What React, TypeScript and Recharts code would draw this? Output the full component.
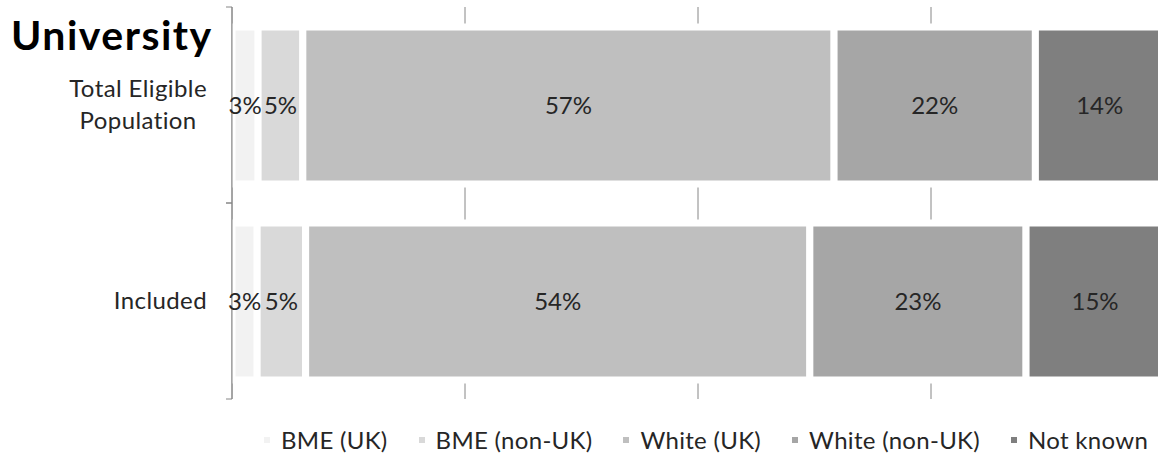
// University ethnicity breakdown: stacked 100% bars
import React from "react";
import {
  BarChart,
  Bar,
  XAxis,
  YAxis,
  CartesianGrid,
  Legend,
  LabelList,
} from "recharts";

const categories = ["Total Eligible Population", "Included"];
const bmeUk = [2.8, 2.7];
const bmeNonUk = [4.8, 5.2];
const whiteUk = [57.0, 54.1];
const whiteNonUk = [21.6, 23.2];
const notKnown = [13.8, 14.8];

const seriesNames = ["BME (UK)", "BME (non-UK)", "White (UK)", "White (non-UK)", "Not known"];
const seriesKeys = ["bmeUk", "bmeNonUk", "whiteUk", "whiteNonUk", "notKnown"];
const seriesColors = ["#f2f2f2", "#d9d9d9", "#bfbfbf", "#a6a6a6", "#7f7f7f"];
const xTicks = [0, 25, 50, 75, 100];

const data = categories.map((name, i) => ({
  name,
  bmeUk: bmeUk[i],
  bmeNonUk: bmeNonUk[i],
  whiteUk: whiteUk[i],
  whiteNonUk: whiteNonUk[i],
  notKnown: notKnown[i],
}));

const FONT = "Lato, 'Open Sans', sans-serif";
const TEXT = "#262626";
const AXIS = "#868686";
const TICK_MARGIN = 25;

let ctx: CanvasRenderingContext2D | null = null;
function measure(s: string) {
  if (!ctx) ctx = document.createElement("canvas").getContext("2d");
  if (!ctx) return s.length * 10;
  ctx.font = "24px Lato";
  return ctx.measureText(s).width + s.length * 0.4;
}

function splitLabel(s: string) {
  if (s.length <= 12) return [s];
  const i = s.lastIndexOf(" ");
  return [s.slice(0, i), s.slice(i + 1)];
}

const CategoryTick = (props: any) => {
  const { x, y, payload } = props;
  const half = payload?.offset || 98;
  const lines = splitLabel(String(payload.value));
  const maxW = Math.max(...lines.map(measure));
  const cx = x - maxW / 2;
  const axisX = x + TICK_MARGIN;
  const first = lines.length === 1 ? 8 : -8;
  return (
    <g>
      <line x1={axisX - 6} x2={axisX} y1={y - half} y2={y - half} stroke={AXIS} />
      <line x1={axisX - 6} x2={axisX} y1={y + half} y2={y + half} stroke={AXIS} />
      <text
        x={cx}
        y={y}
        textAnchor="middle"
        fill={TEXT}
        fontSize={24}
        fontFamily={FONT}
        letterSpacing={0.4}
      >
        {lines.map((l, i) => (
          <tspan key={i} x={cx} y={y + first + i * 32}>
            {l}
          </tspan>
        ))}
      </text>
    </g>
  );
};

const renderLegend = (props: any) => {
  const items = [...(props.payload || [])].sort(
    (a: any, b: any) => seriesNames.indexOf(a.value) - seriesNames.indexOf(b.value)
  );
  return (
    <div
      style={{
        display: "flex",
        alignItems: "center",
        fontFamily: FONT,
        fontSize: 24,
        letterSpacing: 0.3,
        color: TEXT,
        lineHeight: "28px",
        whiteSpace: "nowrap",
      }}
    >
      {items.map((entry: any) => (
        <div key={entry.value} style={{ display: "flex", alignItems: "center", marginRight: 31 }}>
          <span
            style={{ width: 6, height: 6, background: entry.color, marginRight: 11, display: "inline-block" }}
          />
          <span>{entry.value}</span>
        </div>
      ))}
    </div>
  );
};

export default function App() {
  return (
    <div
      style={{
        position: "absolute",
        left: 0,
        top: 0,
        width: 1158,
        height: 455,
        overflow: "hidden",
        background: "#fff",
      }}
    >
      <div
        style={{
          position: "absolute",
          left: 11,
          top: 14,
          fontFamily: FONT,
          fontWeight: 700,
          fontSize: 41,
          letterSpacing: 1.5,
          lineHeight: "41px",
          color: "#000",
          zIndex: 2,
        }}
      >
        University
      </div>
      <BarChart
        width={1166}
        height={455}
        data={data}
        layout="vertical"
        margin={{ top: 7, right: 2, bottom: 56, left: 0 }}
        barSize={157}
      >
        <CartesianGrid horizontal={false} stroke={AXIS} />
        <XAxis
          type="number"
          domain={[0, 100]}
          ticks={xTicks}
          allowDataOverflow
          axisLine={false}
          tickLine={false}
          tickFormatter={() => ""}
          height={0}
        />
        {seriesKeys.map((k, i) => (
          <Bar
            key={k}
            dataKey={k}
            name={seriesNames[i]}
            stackId="a"
            fill={seriesColors[i]}
            stroke="#fff"
            strokeWidth={7}
            isAnimationActive={false}
          >
            <LabelList
              dataKey={k}
              position="center"
              formatter={(v: any) => `${Math.round(Number(v))}%`}
              fill={TEXT}
              fontSize={24}
              fontFamily={FONT}
            />
          </Bar>
        ))}
        <YAxis
          type="category"
          dataKey="name"
          width={232}
          axisLine={{ stroke: AXIS }}
          tickLine={false}
          tickSize={0}
          tickMargin={TICK_MARGIN}
          tick={<CategoryTick />}
          interval={0}
        />
        <Legend
          layout="horizontal"
          verticalAlign="middle"
          align="center"
          content={renderLegend}
          wrapperStyle={{ position: "absolute", left: 264, top: 426, width: 900 }}
        />
      </BarChart>
    </div>
  );
}
